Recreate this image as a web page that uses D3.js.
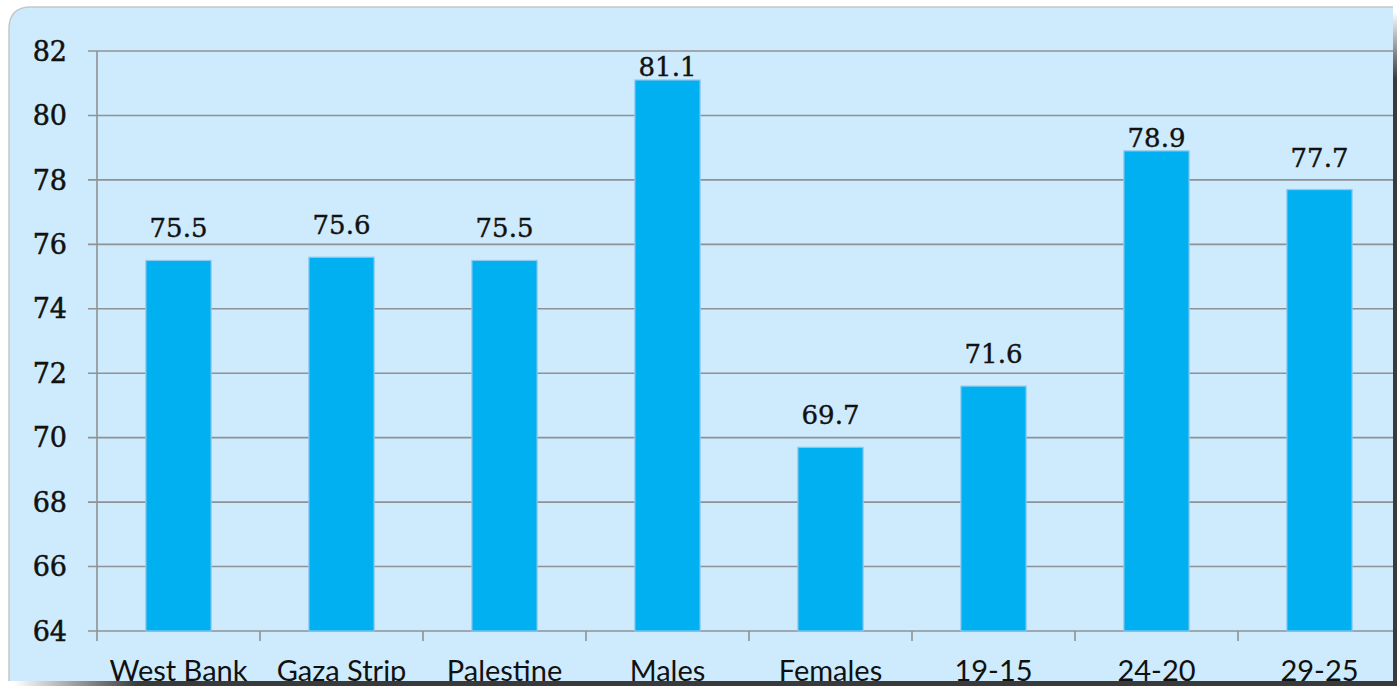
<!DOCTYPE html>
<html>
<head>
<meta charset="utf-8">
<script src="https://cdn.jsdelivr.net/npm/d3@7"></script>
<style>
  html, body { margin: 0; padding: 0; background: #ffffff; }
  svg { display: block; }
</style>
</head>
<body>
<svg id="chart" width="1397" height="686"></svg>
<script>
// Chart data
const categories = ["West Bank", "Gaza Strip", "Palestine", "Males", "Females", "19-15", "24-20", "29-25"];
const values = [75.5, 75.6, 75.5, 81.1, 69.7, 71.6, 78.9, 77.7];
const yTicks = [64, 66, 68, 70, 72, 74, 76, 78, 80, 82];

const W = 1397, H = 686;
const panel = { x: 9, y: 7, r: 1393, b: 681, radius: 22 };
const plot = { left: 97, top: 51, bottom: 631, right: 1401 };

const svg = d3.select("#chart");
const defs = svg.append("defs");

// Drop shadow gradients along the right and bottom edges
const gV = defs.append("linearGradient").attr("id", "shadowV").attr("x1", 0).attr("y1", 0).attr("x2", 0).attr("y2", 1);
gV.append("stop").attr("offset", "0").attr("stop-color", "#ffffff");
gV.append("stop").attr("offset", "0.1").attr("stop-color", "#3a3a3a");
gV.append("stop").attr("offset", "1").attr("stop-color", "#3a3a3a");
const gH = defs.append("linearGradient").attr("id", "shadowH").attr("x1", 0).attr("y1", 0).attr("x2", 1).attr("y2", 0);
gH.append("stop").attr("offset", "0").attr("stop-color", "#ffffff");
gH.append("stop").attr("offset", "0.09").attr("stop-color", "#3a3a3a");
gH.append("stop").attr("offset", "1").attr("stop-color", "#3a3a3a");

svg.append("rect").attr("x", panel.r).attr("y", 12).attr("width", W - panel.r).attr("height", H - 12).attr("fill", "url(#shadowV)");
svg.append("rect").attr("x", 14).attr("y", panel.b).attr("width", W - 14).attr("height", H - panel.b).attr("fill", "url(#shadowH)");

// Panel with a rounded top-left corner
const panelPath = `M${panel.x},${panel.b} L${panel.x},${panel.y + panel.radius} Q${panel.x},${panel.y} ${panel.x + panel.radius},${panel.y} L${panel.r},${panel.y} L${panel.r},${panel.b} Z`;
defs.append("clipPath").attr("id", "panelClip").append("path").attr("d", panelPath);
svg.append("path").attr("d", panelPath).attr("fill", "#cdebfd");
svg.append("path")
  .attr("d", `M${panel.x},${panel.b} L${panel.x},${panel.y + panel.radius} Q${panel.x},${panel.y} ${panel.x + panel.radius},${panel.y} L${panel.r},${panel.y}`)
  .attr("fill", "none").attr("stroke", "#c4c8cc").attr("stroke-width", 1.5);

const g = svg.append("g").attr("clip-path", "url(#panelClip)");

const x = d3.scaleBand().domain(categories).range([plot.left, plot.right]).paddingInner(0).paddingOuter(0);
const y = d3.scaleLinear().domain([64, 82]).range([plot.bottom, plot.top]);

// Horizontal gridlines
g.append("g").selectAll("line").data(yTicks).join("line")
  .attr("x1", plot.left - 9).attr("x2", W)
  .attr("y1", d => y(d)).attr("y2", d => y(d))
  .attr("stroke", "#8f9294").attr("stroke-width", 1.6);

// Y axis line
g.append("line").attr("x1", plot.left).attr("x2", plot.left)
  .attr("y1", plot.top).attr("y2", plot.bottom + 10)
  .attr("stroke", "#8f9294").attr("stroke-width", 1.6);

// Category tick marks below the baseline
g.append("g").selectAll("line").data(categories.slice(1)).join("line")
  .attr("x1", d => x(d)).attr("x2", d => x(d))
  .attr("y1", plot.bottom).attr("y2", plot.bottom + 10)
  .attr("stroke", "#8f9294").attr("stroke-width", 1.6);

// Y tick labels
g.append("g").selectAll("text").data(yTicks).join("text")
  .attr("x", 67).attr("y", d => y(d)).attr("dy", "0.36em")
  .attr("text-anchor", "end")
  .attr("font-family", "'DejaVu Serif', serif").attr("font-size", 27)
  .attr("fill", "#111").attr("stroke", "#111").attr("stroke-width", 0.5)
  .text(d => d);

// Bars
const barW = x.bandwidth() * 0.4;
g.append("g").selectAll("rect").data(values).join("rect")
  .attr("x", (d, i) => x(categories[i]) + (x.bandwidth() - barW) / 2)
  .attr("y", d => y(d))
  .attr("width", barW)
  .attr("height", d => y(64) - y(d))
  .attr("fill", "#00b0f0")
  .attr("stroke", "#8ec9ee").attr("stroke-width", 1.2);

// Value labels: sit above the bar, dropping closer to it when the
// usual spot would cross a gridline
const labelH = 21, gapNormal = 23, gapTight = 4;
function labelBaseline(v) {
  const top = y(v);
  const base = top - gapNormal;
  const crosses = yTicks.some(t => y(t) > base - labelH && y(t) < base);
  return crosses ? top - gapTight : base;
}
g.append("g").selectAll("text").data(values).join("text")
  .attr("x", (d, i) => x(categories[i]) + x.bandwidth() / 2)
  .attr("y", d => labelBaseline(d))
  .attr("text-anchor", "middle")
  .attr("font-family", "'DejaVu Serif', serif").attr("font-size", 26)
  .attr("fill", "#111").attr("stroke", "#111").attr("stroke-width", 0.4)
  .text(d => d.toFixed(1));

// Category labels, cut off by the panel's bottom edge
g.append("g").selectAll("text").data(categories).join("text")
  .attr("x", d => x(d) + x.bandwidth() / 2)
  .attr("y", 681)
  .attr("text-anchor", "middle")
  .attr("font-family", "Lato, sans-serif").attr("font-size", 29)
  .attr("fill", "#111")
  .text(d => d);
</script>
</body>
</html>
